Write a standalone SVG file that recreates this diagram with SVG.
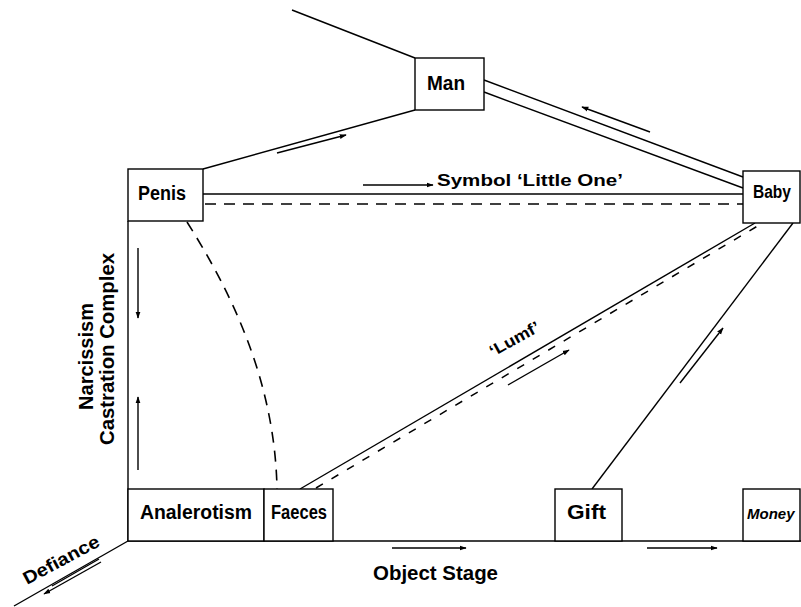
<svg xmlns="http://www.w3.org/2000/svg" width="801" height="607" viewBox="0 0 801 607">
<style>
.box{fill:#fff;stroke:#000;stroke-width:1.4}
.ln{fill:none;stroke:#000;stroke-width:1.4}
.dash{fill:none;stroke:#000;stroke-width:1.6;stroke-dasharray:11 8}
.dash2{fill:none;stroke:#000;stroke-width:1.5;stroke-dasharray:8 10}
.arr{fill:none;stroke:#000;stroke-width:1.4;marker-end:url(#ah)}
text{font-family:"Liberation Sans",Arial,sans-serif;font-weight:bold;font-size:20px;fill:#000}
</style>
<defs>
<marker id="ah" viewBox="0 0 10 10" refX="9" refY="5" markerWidth="7" markerHeight="7" markerUnits="userSpaceOnUse" orient="auto">
<path d="M0,1.5 L10,5 L0,8.5 Z" fill="#000"/>
</marker>
</defs>
<rect width="801" height="607" fill="#fff"/>
<g id="connectors">
<line class="ln" x1="292" y1="10" x2="415" y2="58"/>
<line class="ln" x1="203" y1="169" x2="415" y2="110"/>
<line class="arr" x1="277" y1="153" x2="346" y2="135"/>
<line class="ln" x1="484" y1="80" x2="743" y2="177"/>
<line class="ln" x1="484" y1="92" x2="743" y2="188"/>
<line class="arr" x1="650" y1="132" x2="582" y2="107"/>
<line class="ln" x1="203" y1="194" x2="743" y2="194"/>
<line class="dash" x1="205" y1="204" x2="743" y2="204"/>
<line class="arr" x1="363" y1="185" x2="433" y2="185"/>
<path class="dash" d="M187,222 C230,290 275,380 277,489"/>
<line class="ln" x1="128" y1="221" x2="128" y2="541"/>
<line class="arr" x1="138" y1="248" x2="138" y2="318"/>
<line class="arr" x1="138" y1="470" x2="138" y2="397"/>
<line class="ln" x1="300" y1="489" x2="755" y2="223"/>
<line class="dash2" x1="316" y1="488" x2="761" y2="224"/>
<line class="arr" x1="508" y1="385" x2="569" y2="350"/>
<line class="ln" x1="592" y1="489" x2="793" y2="223"/>
<line class="arr" x1="680" y1="383" x2="723" y2="328"/>
<line class="ln" x1="128" y1="541" x2="801" y2="541"/>
<line class="arr" x1="392" y1="548" x2="466" y2="548"/>
<line class="arr" x1="647" y1="548" x2="717" y2="548"/>
<line class="ln" x1="128" y1="541" x2="14" y2="606"/>
<line class="arr" x1="101" y1="562" x2="44" y2="594"/>
<line class="ln" x1="99" y1="559" x2="52" y2="586"/>
</g>
<g id="man">
<rect class="box" x="415" y="58" width="69" height="52"/>
<text x="427" y="90" textLength="38" lengthAdjust="spacingAndGlyphs">Man</text>
</g>
<g id="penis">
<rect class="box" x="128" y="169" width="75" height="52"/>
<text x="138" y="200" textLength="48" lengthAdjust="spacingAndGlyphs">Penis</text>
</g>
<g id="baby">
<rect class="box" x="743" y="171" width="57" height="52"/>
<text x="753" y="198" style="font-size:18px" textLength="38" lengthAdjust="spacingAndGlyphs">Baby</text>
</g>
<g id="analerotism">
<rect class="box" x="128" y="489" width="136" height="52"/>
<text x="140" y="519" textLength="112" lengthAdjust="spacingAndGlyphs">Analerotism</text>
</g>
<g id="faeces">
<rect class="box" x="264" y="489" width="69" height="52"/>
<text x="271" y="519" textLength="56" lengthAdjust="spacingAndGlyphs">Faeces</text>
</g>
<g id="gift">
<rect class="box" x="555" y="489" width="67" height="52"/>
<text x="567" y="519" textLength="39" lengthAdjust="spacingAndGlyphs">Gift</text>
</g>
<g id="money">
<rect class="box" x="743" y="489" width="57" height="52"/>
<text x="747" y="519" style="font-size:15px;font-style:italic">Money</text>
</g>
<g id="labels">
<text x="437" y="186" style="font-size:17px" textLength="186" lengthAdjust="spacingAndGlyphs">Symbol ‘Little One’</text>
<text x="373" y="580" textLength="125" lengthAdjust="spacingAndGlyphs">Object Stage</text>
<text transform="translate(93,410) rotate(-90)" textLength="107" lengthAdjust="spacingAndGlyphs">Narcissism</text>
<text transform="translate(114,445) rotate(-90)" textLength="192" lengthAdjust="spacingAndGlyphs">Castration Complex</text>
<text transform="translate(27,585) rotate(-28)" style="font-size:18px" textLength="84" lengthAdjust="spacingAndGlyphs">Defiance</text>
<text transform="translate(493,357) rotate(-29)" style="font-size:16px" textLength="55" lengthAdjust="spacingAndGlyphs">‘Lumf’</text>
</g>
</svg>
